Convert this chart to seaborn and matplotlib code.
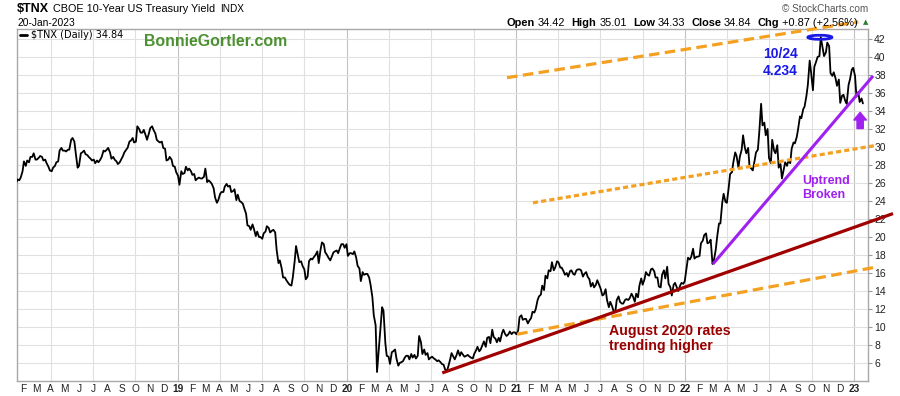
import matplotlib
matplotlib.use("Agg")
import matplotlib.pyplot as plt
import matplotlib.dates as mdates
from matplotlib.patches import Ellipse
from matplotlib.lines import Line2D
import pandas as pd
import seaborn as sns

# ---------------- data ($TNX) ----------------
# Friday closes (weekly, starting at the given Friday) and Tuesday closes (3 days earlier)
tnx_2018_start = "2018-01-19"
tnx_2018_fri = [26.4, 26.6,
                28.4, 28.5, 28.9, 29.3,
                28.6, 29.0, 28.5, 28.2, 27.4,
                27.7, 28.3, 29.6, 29.6,
                29.5, 29.7, 31.0, 29.3,
                27.9, 29.4, 29.2, 28.9, 28.5,
                28.2, 28.3, 28.9, 29.5,
                29.9, 28.7, 28.6, 28.1, 28.6,
                29.4, 29.9, 30.7, 30.5,
                32.3, 31.6, 31.9, 30.8,
                32.1, 31.9, 30.8, 30.5, 29.9,
                28.5, 28.9, 27.9, 27.2]
tnx_2018_tue = [26.0, 26.3, 27.3, 27.9, 28.3, 28.9, 28.6, 28.8, 28.9, 28.6,
                27.8, 27.3, 27.9, 28.4, 29.9, 29.6, 29.7, 30.8, 30.6, 27.7,
                29.3, 29.6, 29.1, 28.7, 28.6, 28.5, 28.6, 29.6, 29.7, 29.4,
                28.9, 28.4, 28.3, 29.0, 29.7, 30.6, 31.0, 30.6, 32.0, 31.6,
                31.3, 31.5, 32.3, 31.5, 30.6, 30.6, 29.8, 28.6, 28.6, 27.8]

tnx_2019_start = "2019-01-04"
tnx_2019_fri = [25.8, 27.0, 27.8, 27.6,
                26.9, 26.3, 26.6, 26.5,
                27.6, 26.3, 25.9, 24.4, 24.1,
                25.0, 25.6, 25.6, 25.0,
                25.3, 24.7, 23.9, 23.2, 21.3,
                20.8, 20.9, 20.6, 20.0,
                20.4, 21.2, 20.5, 20.8,
                18.6, 17.4, 15.5, 15.2, 14.7,
                15.5, 19.0, 17.2, 16.8,
                15.3, 17.3, 17.5, 18.0,
                17.1, 19.4, 18.3, 17.7, 17.8,
                18.4, 18.2, 19.2, 18.8]
tnx_2019_tue = [26.8, 27.3, 27.1, 27.4, 27.3, 27.0, 26.5, 26.5, 26.7, 26.1,
                26.1, 25.4, 23.8, 24.8, 25.0, 25.9, 25.7, 25.1, 24.1, 24.0,
                23.7, 22.6, 21.2, 21.4, 20.1, 20.0, 19.8, 20.6, 21.0, 20.7,
                20.5, 17.1, 16.5, 15.5, 14.9, 14.6, 17.3, 18.0, 17.3, 16.4,
                15.6, 17.6, 17.8, 18.4, 18.6, 19.2, 18.0, 17.4, 18.3, 18.5,
                18.8, 19.2]

tnx_2020_start = "2020-01-03"
tnx_2020_fri = [17.9, 18.2, 18.4, 16.8, 15.1,
                15.8, 15.9, 14.7, 11.3,
                5.0, 9.6, 11.8, 6.8,
                5.9, 7.3, 6.5, 6.0,
                6.2, 6.8, 6.4, 6.6, 6.5,
                9.0, 7.0, 6.9, 6.4,
                6.7, 6.4, 6.3, 5.9, 5.3,
                5.6, 7.1, 6.4, 7.4,
                7.2, 6.7, 6.9, 6.6,
                7.0, 7.8, 7.5, 8.4, 8.8,
                8.2, 8.9, 8.3, 8.4,
                9.7, 9.0, 9.5, 9.4]
tnx_2020_tue = [19.2, 18.2, 18.1, 17.7, 16.5, 16.1, 15.9, 15.5, 13.3, 10.2,
                7.6, 12.2, 8.2, 6.7, 7.2, 7.5, 5.7, 6.1, 6.6, 6.8,
                7.0, 6.9, 6.8, 8.3, 7.5, 7.1, 6.6, 6.5, 6.2, 6.1,
                5.8, 5.1, 6.4, 6.7, 6.9, 6.8, 6.9, 6.8, 6.7, 6.5,
                7.4, 7.3, 8.0, 7.8, 8.9, 9.7, 8.7, 8.8, 9.3, 9.2,
                9.2, 9.2]

tnx_2021_start = "2021-01-01"
tnx_2021_fri = [9.2, 11.1, 10.8, 10.9, 10.7,
                11.7, 12.0, 13.4, 14.6,
                15.7, 16.3, 17.2, 16.6,
                17.2, 16.6, 15.8, 15.6, 16.3,
                15.8, 16.4, 16.3, 15.9,
                15.6, 14.5, 14.4, 15.2,
                14.3, 13.6, 13.0, 12.8, 11.8,
                13.0, 12.8, 12.6, 13.1,
                13.2, 13.4, 13.7, 14.6,
                14.7, 16.1, 15.7, 16.5, 15.5,
                14.5, 15.8, 15.4, 14.8,
                13.5, 14.9, 14.0, 14.9, 15.1]
tnx_2021_tue = [9.4, 9.6, 11.3, 10.9, 10.4, 11.0, 11.6, 13.0, 13.6, 14.1,
                15.4, 16.2, 16.3, 17.3, 16.6, 16.2, 16.0, 16.2, 15.9, 16.3,
                16.4, 15.6, 16.1, 15.3, 14.9, 14.7, 14.7, 13.5, 14.2, 12.2,
                12.3, 11.7, 13.4, 12.6, 13.0, 13.0, 13.7, 12.8, 13.3, 15.4,
                15.3, 15.8, 16.4, 16.2, 15.5, 14.4, 16.3, 16.7, 14.4, 14.7,
                14.4, 14.6, 14.8]

tnx_2022_start = "2022-01-07"
tnx_2022_fri = [17.7, 17.8, 17.6, 17.8,
                19.3, 20.2, 19.3, 19.7,
                17.4, 20.0, 21.5, 24.8,
                23.8, 27.0, 28.3, 29.0, 28.9,
                31.3, 29.3, 27.8, 27.4,
                29.4, 31.6, 32.4, 31.3,
                28.8, 30.8, 29.3, 27.7, 26.5,
                28.3, 28.5, 29.8, 30.4,
                32.0, 33.2, 34.5, 36.9, 38.3,
                38.9, 40.0, 42.2, 40.1,
                41.6, 38.2, 38.3, 36.8,
                34.9, 35.8, 34.8, 37.5, 38.8]
tnx_2022_tue = [16.6, 17.5, 18.7, 17.8, 17.9, 19.6, 20.4, 19.4, 17.0, 18.6,
                21.5, 23.8, 23.9, 25.5, 27.2, 29.4, 27.7, 29.7, 29.9, 29.9,
                27.6, 28.5, 29.7, 34.8, 32.7, 32.0, 28.2, 29.6, 30.2, 28.1,
                27.5, 27.9, 28.2, 30.5, 31.1, 33.4, 34.2, 35.7, 39.6, 36.3,
                39.5, 40.1, 41.0, 40.5, 41.2, 37.9, 37.6, 37.5, 35.7, 35.1,
                36.9, 38.6]

tnx_2023_start = "2023-01-06"
tnx_2023_fri = [35.6, 35.0, 34.84]
tnx_2023_tue = [37.9, 36.1, 35.4]

y_ticks = [6, 8, 10, 12, 14, 16, 18, 20, 22, 24, 26, 28, 30, 32, 34, 36, 38, 40, 42]
month_initials = ["J", "F", "M", "A", "M", "J", "J", "A", "S", "O", "N", "D"]

# annotation lines (start/end)
upper_channel_dates = ["2020-12-12", "2023-01-10"]
upper_channel_vals = [37.7, 43.9]
mid_channel_dates = ["2021-02-06", "2023-02-20"]
mid_channel_vals = [23.8, 30.2]
low_channel_dates = ["2021-01-03", "2023-02-22"]
low_channel_vals = [9.2, 16.7]
aug2020_trend_dates = ["2020-07-25", "2023-03-26"]
aug2020_trend_vals = [4.9, 22.6]
uptrend_dates = ["2022-03-02", "2023-02-11"]
uptrend_vals = [17.0, 37.9]

# ---------------- style ----------------
sns.set_style("white")
plt.rcParams["font.family"] = ["Liberation Sans", "DejaVu Sans"]

ORANGE = "#f4a020"
DARKRED = "#a00000"
PURPLE = "#a020f0"
BLUE = "#1a1ae6"

W, H = 900, 396
fig = plt.figure(figsize=(W / 100, H / 100), dpi=100)
ax = fig.add_axes([17 / W, 1 - 381 / H, (868 - 17) / W, (381 - 29) / H])

frames = []
for start, fri, tue in [(tnx_2018_start, tnx_2018_fri, tnx_2018_tue),
                        (tnx_2019_start, tnx_2019_fri, tnx_2019_tue),
                        (tnx_2020_start, tnx_2020_fri, tnx_2020_tue),
                        (tnx_2021_start, tnx_2021_fri, tnx_2021_tue),
                        (tnx_2022_start, tnx_2022_fri, tnx_2022_tue),
                        (tnx_2023_start, tnx_2023_fri, tnx_2023_tue)]:
    fdates = pd.date_range(start, periods=len(fri), freq="7D")
    frames.append(pd.DataFrame({"date": fdates, "tnx": fri}))
    frames.append(pd.DataFrame({"date": fdates[:len(tue)] - pd.Timedelta(days=3), "tnx": tue}))
df = pd.concat(frames, ignore_index=True).sort_values("date").reset_index(drop=True)

sns.lineplot(data=df, x="date", y="tnx", ax=ax, color="black", lw=1.3,
             estimator=None, legend=False, zorder=3)

# grid
for q in pd.date_range("2018-04-01", "2023-01-01", freq="QS"):
    ax.axvline(q, color="#c2c2c2" if q.month == 1 else "#e0e0e0", lw=0.8, zorder=0)
ax.set_yticks(y_ticks)
ax.yaxis.grid(True, color="#e0e0e0", lw=0.8)
ax.set_axisbelow(True)

ax.set_xlim(pd.Timestamp("2018-01-18"), pd.Timestamp("2023-01-31"))
ax.set_ylim(4, 43.11)
ax.yaxis.tick_right()
ax.set_xlabel("")
ax.set_ylabel("")

months = pd.date_range("2018-02-01", "2023-01-01", freq="MS")
labels = [f"{d.year % 100:02d}" if d.month == 1 else month_initials[d.month - 1] for d in months]
ax.set_xticks(months)
ax.set_xticklabels(labels)
for lab, d in zip(ax.get_xticklabels(), months):
    if d.month == 1:
        lab.set_fontweight("bold")
        lab.set_fontsize(8.2)
ax.tick_params(axis="x", length=0, pad=2, labelsize=7.3, labelcolor="#222222")
ax.tick_params(axis="y", length=3, width=0.8, color="#999999", pad=1.5,
               labelsize=7.5, labelcolor="#222222")
for s in ax.spines.values():
    s.set_color("#a8a8a8")
    s.set_linewidth(1.0)

# trend lines
def tline(dates, vals, **kw):
    ax.plot(pd.to_datetime(dates), vals, clip_on=False, solid_capstyle="butt", **kw)

tline(upper_channel_dates, upper_channel_vals, color=ORANGE, lw=2.3, ls=(0, (3.3, 1.7)), zorder=4)
tline(mid_channel_dates, mid_channel_vals, color=ORANGE, lw=2.3, ls=(0, (1.6, 1.0)), zorder=4)
tline(low_channel_dates, low_channel_vals, color=ORANGE, lw=2.3, ls=(0, (3.3, 1.7)), zorder=4)
tline(aug2020_trend_dates, aug2020_trend_vals, color=DARKRED, lw=2.3, zorder=4)
tline(uptrend_dates, uptrend_vals, color=PURPLE, lw=2.2, zorder=5)

# ellipse around the peak
ell = Ellipse((mdates.date2num(pd.Timestamp("2022-10-19")), 42.19), width=52, height=0.45,
              fill=False, ec=BLUE, lw=2.0, zorder=6, clip_on=False)
ax.add_patch(ell)

# purple arrow
xa = mdates.date2num(pd.Timestamp("2023-01-14"))
ax.annotate("", xy=(xa, 33.85), xytext=(xa, 32.05),
            arrowprops=dict(arrowstyle="simple,head_length=0.55,head_width=0.9,tail_width=0.45",
                            fc=PURPLE, ec=PURPLE, shrinkA=0, shrinkB=0, mutation_scale=10),
            annotation_clip=False, zorder=6)

# annotation texts
def dnum(s):
    return mdates.date2num(pd.Timestamp(s))

ax.text(dnum("2022-07-25"), 39.9, "10/24", color=BLUE, fontsize=10, fontweight="bold",
        ha="center", va="baseline", zorder=7)
ax.text(dnum("2022-07-26"), 38.0, "4.234", color=BLUE, fontsize=10, fontweight="bold",
        ha="center", va="baseline", zorder=7)
ax.text(dnum("2022-09-11"), 25.9, "Uptrend", color=PURPLE, fontsize=9, fontweight="bold",
        ha="left", va="baseline", zorder=7)
ax.text(dnum("2022-09-11"), 24.33, "Broken", color=PURPLE, fontsize=9, fontweight="bold",
        ha="left", va="baseline", zorder=7)
ax.text(dnum("2021-07-20"), 9.11, "August 2020 rates", color="#990000", fontsize=10.2,
        fontweight="bold", ha="left", va="baseline", zorder=7)
ax.text(dnum("2021-07-20"), 7.44, "trending higher", color="#990000", fontsize=10.2,
        fontweight="bold", ha="left", va="baseline", zorder=7)

# ---------------- header ----------------
renderer = fig.canvas.get_renderer()

def place_run(x_px, y_px, pieces, align="left"):
    texts, widths = [], []
    for s, kw, gap in pieces:
        t = fig.text(0, 1 - y_px / H, s, va="baseline", ha="left", **kw)
        texts.append(t)
        widths.append(t.get_window_extent(renderer=renderer).width + gap)
    total = sum(widths) - pieces[-1][2]
    x = x_px - total if align == "right" else x_px
    for t, w in zip(texts, widths):
        t.set_x(x / W)
        x += w

place_run(17, 12, [("\\$TNX", dict(size=9, weight="bold", color="black"), 4),
                   ("CBOE 10-Year US Treasury Yield", dict(size=7.8, color="black"), 5),
                   ("INDX", dict(size=7.2, color="black"), 0)])
fig.text(17 / W, 1 - 26 / H, "20-Jan-2023", size=7.4, va="baseline", ha="left", color="black")

B = dict(size=7.9, weight="bold", color="black")
N = dict(size=7.9, color="black")
place_run(858, 26, [("Open", B, 3), ("34.42", N, 6), ("High", B, 3), ("35.01", N, 6),
                    ("Low", B, 3), ("34.33", N, 6), ("Close", B, 3), ("34.84", N, 6),
                    ("Chg", B, 3), ("+0.87 (+2.56%)", N, 0)], align="right")
fig.text(866 / W, 1 - 22 / H, "▲", family="DejaVu Sans", size=5, color="#2e7d32",
         ha="center", va="center")
fig.text(868 / W, 1 - 12.5 / H, "© StockCharts.com", size=7.2, color="#555555",
         ha="right", va="baseline")

# legend inside the plot
fig.add_artist(Line2D([20 / W, 27 / W], [1 - 35 / H, 1 - 35 / H], color="black", lw=2))
fig.text(31 / W, 1 - 38 / H, "\\$TNX (Daily) 34.84", family="DejaVu Sans", size=7,
         color="black", va="baseline", ha="left")

fig.text(144 / W, 1 - 46 / H, "BonnieGortler.com", size=11.4, weight="bold",
         color="#4b9130", va="baseline", ha="left")

fig.savefig("out.png", dpi=100)
